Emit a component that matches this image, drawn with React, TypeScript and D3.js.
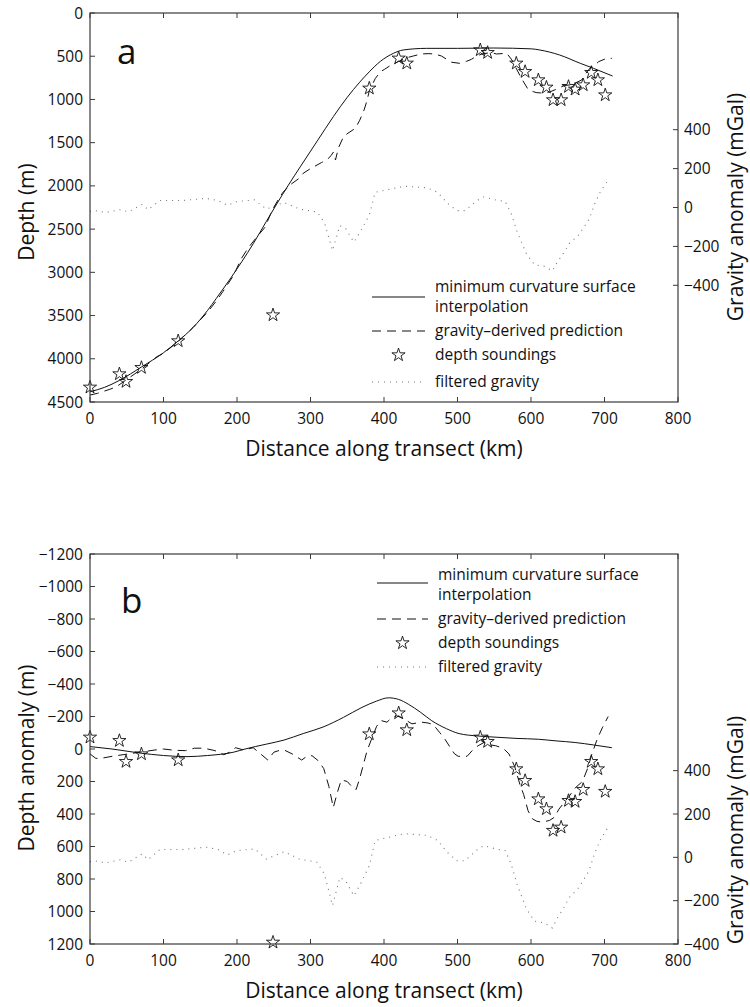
import React from "react";
import * as d3 from "d3";

type P = [number, number];

// ---------- data ----------
const xTicks = [0, 100, 200, 300, 400, 500, 600, 700, 800];
const depthTicksA = [0, 500, 1000, 1500, 2000, 2500, 3000, 3500, 4000, 4500];
const anomTicksB = [-1200, -1000, -800, -600, -400, -200, 0, 200, 400, 600, 800, 1000, 1200];
const gravTicks = [-400, -200, 0, 200, 400];

const soundingKm = [0, 40, 49, 70, 120, 249, 380, 420, 431, 531, 541, 580, 592, 610, 621, 630, 641, 651, 660, 671, 682, 691, 701];
const soundingDepth = [4330, 4176, 4265, 4103, 3794, 3494, 871, 524, 582, 428, 459, 582, 679, 775, 860, 1006, 1006, 852, 883, 833, 690, 775, 949];
const soundingAnomaly = [-72, -51, 78, 31, 68, 1190, -92, -221, -117, -72, -45, 123, 195, 308, 369, 502, 482, 318, 324, 250, 78, 123, 262];

const mcDepthA: P[] = [
  [0, 4381], [20, 4330], [40, 4250], [70, 4095], [100, 3930], [120, 3794], [140, 3640], [160, 3440],
  [172, 3300], [192, 3060], [222, 2670], [240, 2410], [254, 2210], [270, 1990], [286, 1780], [310, 1470],
  [331, 1200], [350, 975], [367, 800], [380, 680], [395, 560], [413, 466], [426, 428], [458, 409],
  [500, 409], [549, 405], [601, 415], [612, 428], [639, 486], [667, 582], [685, 640], [711, 729],
];

const gdDepthA: P[] = [
  [0, 4420], [10, 4400], [27, 4353], [36, 4323], [50, 4240], [70, 4120], [91, 3976], [100, 3937],
  [120, 3800], [140, 3640], [160, 3460], [172, 3330], [181, 3220], [195, 3040], [206, 2840], [215, 2720],
  [228, 2580], [238, 2480], [248, 2280], [256, 2160], [262, 2080], [272, 1990], [285, 1910], [290, 1855],
  [300, 1800], [315, 1730], [322, 1700], [328, 1650], [331, 1610], [334, 1700], [338, 1560], [345, 1430],
  [351, 1390], [361, 1334], [367, 1240], [373, 1120], [377, 1010], [380, 900], [388, 760], [395, 680],
  [401, 650], [410, 600], [420, 560], [430, 520], [440, 497], [451, 474], [460, 470], [469, 474],
  [478, 497], [492, 570], [503, 582], [512, 560], [519, 536], [526, 497], [535, 470], [546, 459],
  [553, 474], [567, 466], [574, 543], [581, 659], [587, 756], [596, 883], [603, 910], [608, 922],
  [615, 925], [625, 915], [635, 880], [645, 840], [655, 830], [669, 775], [673, 717], [680, 640],
  [687, 602], [692, 563], [703, 524], [710, 524],
];

const mcAnomB: P[] = [
  [0, -15], [30, 0], [68, 25], [100, 40], [132, 47], [160, 40], [195, 20], [211, 0], [240, -30],
  [264, -55], [290, -95], [317, -135], [345, -195], [370, -256], [390, -295], [406, -315], [420, -305],
  [433, -276], [450, -225], [465, -174], [485, -125], [502, -95], [528, -80], [555, -72], [581, -65],
  [610, -60], [634, -50], [660, -40], [685, -25], [710, -8],
];

const gdAnomB: P[] = [
  [0, 30], [8, 58], [18, 55], [30, 45], [45, 35], [60, 25], [75, 15], [90, 5], [100, 0], [115, 8],
  [130, 10], [142, -5], [155, -5], [170, 10], [182, 35], [190, 20], [198, -8], [208, 5], [215, 0],
  [222, -8], [232, 30], [242, 68], [250, 20], [258, 8], [265, 8], [275, 30], [288, 68], [295, 45],
  [302, 41], [310, 70], [318, 120], [325, 230], [331, 360], [337, 260], [342, 190], [350, 200],
  [356, 230], [362, 250], [367, 180], [372, 95], [377, 10], [383, -60], [390, -140], [396, -175],
  [404, -165], [410, -190], [417, -205], [425, -190], [438, -155], [451, -165], [460, -160], [467, -150],
  [476, -100], [483, -60], [490, -10], [496, 30], [501, 45], [513, 45], [520, 10], [528, -20],
  [536, -40], [545, -25], [552, -20], [562, -5], [570, 30], [578, 110], [585, 220], [590, 280],
  [596, 380], [602, 430], [608, 445], [615, 450], [625, 440], [632, 420], [638, 370], [645, 330],
  [652, 290], [660, 240], [670, 200], [677, 120], [683, 30], [690, -60], [697, -130], [705, -200],
];

const gravity: P[] = [
  [0, -20], [7, -16], [21, -26], [42, -11], [52, -23], [71, 16], [79, -11], [95, 36], [126, 36],
  [158, 47], [174, 36], [187, 11], [200, 31], [224, 39], [240, -8], [264, 26], [285, -8], [309, -23],
  [319, -78], [330, -222], [340, -93], [348, -109], [359, -178], [369, -116], [380, -39], [388, 78],
  [417, 101], [428, 109], [459, 101], [473, 78], [486, 23], [499, -16], [510, -16], [528, 39],
  [536, 54], [552, 39], [565, 31], [573, -31], [581, -124], [594, -240], [605, -295], [618, -302],
  [629, -326], [636, -279], [642, -248], [652, -186], [665, -140], [679, -62], [687, 23], [695, 85],
  [705, 140],
];

const legendLabels = ["minimum curvature surface", "interpolation", "gravity\u2013derived prediction", "depth soundings", "filtered gravity"];

// ---------- styles ----------
const FONT = "'Open Sans', 'DejaVu Sans', sans-serif";
const AXIS = "#3a3a3a";
const LEFT = 90;
const RIGHT = 678;
const TICK = 5;

const xScale = d3.scaleLinear().domain([0, 800]).range([LEFT, RIGHT]);
const starPath = d3.symbol().type(d3.symbolStar).size(54)() as string;
const fmt = (v: number) => (v < 0 ? "\u2212" + Math.abs(v) : String(v));

interface PanelProps {
  top: number;
  bottom: number;
  yDomain: [number, number];
  yTicks: number[];
  gDomain: [number, number];
  solid: P[];
  dashed: P[];
  stars: number[];
  letter: string;
  letterPos: [number, number];
  yLabel: string;
  yLabelCenter: number;
  gLabelCenter: number;
  legend: { x0: number; x1: number; tx: number; line: number; t1: number; t2: number; dash: number; star: number; dot: number };
}

function Panel(p: PanelProps) {
  const y = d3.scaleLinear().domain(p.yDomain).range([p.top, p.bottom]);
  const g = d3.scaleLinear().domain(p.gDomain).range([p.bottom, p.top]);
  const solidLine = d3.line<P>().x((d) => xScale(d[0])).y((d) => y(d[1])).curve(d3.curveMonotoneX);
  const dashLine = d3.line<P>().x((d) => xScale(d[0])).y((d) => y(d[1]));
  const gLine = d3.line<P>().x((d) => xScale(d[0])).y((d) => g(d[1]));
  const L = p.legend;
  const tickFont = { fontFamily: FONT, fontSize: 15.5, fill: "#111" } as const;
  return (
    <g>
      {/* data */}
      <path d={gLine(gravity) || ""} fill="none" stroke="#777" strokeWidth={1.1} strokeDasharray="1 5" />
      <path d={solidLine(p.solid) || ""} fill="none" stroke="#111" strokeWidth={1} />
      <path d={dashLine(p.dashed) || ""} fill="none" stroke="#111" strokeWidth={1} strokeDasharray="9 6" />
      {soundingKm.map((k, i) => (
        <path key={i} d={starPath} transform={`translate(${xScale(k)},${y(p.stars[i])})`} fill="none" stroke="#111" strokeWidth={0.9} />
      ))}

      {/* box */}
      <rect x={LEFT} y={p.top} width={RIGHT - LEFT} height={p.bottom - p.top} fill="none" stroke={AXIS} strokeWidth={1.2} />

      {/* x ticks */}
      {xTicks.map((t) => (
        <g key={"x" + t}>
          <line x1={xScale(t)} x2={xScale(t)} y1={p.bottom} y2={p.bottom - TICK} stroke={AXIS} />
          <line x1={xScale(t)} x2={xScale(t)} y1={p.top} y2={p.top + TICK} stroke={AXIS} />
          <text x={xScale(t)} y={p.bottom + 22} textAnchor="middle" {...tickFont}>{t}</text>
        </g>
      ))}
      {/* left ticks */}
      {p.yTicks.map((t) => (
        <g key={"y" + t}>
          <line x1={LEFT} x2={LEFT + TICK} y1={y(t)} y2={y(t)} stroke={AXIS} />
          <text x={LEFT - 7} y={y(t)} dy="0.36em" textAnchor="end" {...tickFont}>{fmt(t)}</text>
        </g>
      ))}
      {/* right ticks */}
      {gravTicks.map((t) => (
        <g key={"g" + t}>
          <line x1={RIGHT} x2={RIGHT - TICK} y1={g(t)} y2={g(t)} stroke={AXIS} />
          <text x={RIGHT + 6} y={g(t)} dy="0.36em" textAnchor="start" {...tickFont}>{fmt(t)}</text>
        </g>
      ))}

      {/* labels */}
      <text x={(LEFT + RIGHT) / 2} y={p.bottom + 54} textAnchor="middle" fontFamily={FONT} fontSize={21} fill="#111">
        Distance along transect (km)
      </text>
      <text transform={`translate(34,${p.yLabelCenter}) rotate(-90)`} textAnchor="middle" fontFamily={FONT} fontSize={21} fill="#111">
        {p.yLabel}
      </text>
      <text transform={`translate(743,${p.gLabelCenter}) rotate(-90)`} textAnchor="middle" fontFamily={FONT} fontSize={21} fill="#111">
        Gravity anomaly (mGal)
      </text>
      <text x={p.letterPos[0]} y={p.letterPos[1]} fontFamily={FONT} fontSize={35} fill="#111">{p.letter}</text>

      {/* legend */}
      <line x1={L.x0} x2={L.x1} y1={L.line} y2={L.line} stroke="#111" />
      <line x1={L.x0} x2={L.x1} y1={L.dash} y2={L.dash} stroke="#111" strokeDasharray="9 6" />
      <path d={starPath} transform={`translate(${(L.x0 + L.x1) / 2},${L.star})`} fill="none" stroke="#111" strokeWidth={0.9} />
      <line x1={L.x0} x2={L.x1} y1={L.dot} y2={L.dot} stroke="#777" strokeWidth={1.1} strokeDasharray="1 5" />
      {[L.t1, L.t2, L.dash, L.star, L.dot].map((yy, i) => (
        <text key={i} x={L.tx} y={yy} dy="0.35em" fontFamily={FONT} fontSize={15.5} fill="#111">{legendLabels[i]}</text>
      ))}
    </g>
  );
}

export default function App() {
  return (
    <svg width={750} height={1007} style={{ position: "absolute", left: 0, top: 0, background: "#fff" }}>
      <rect width={750} height={1007} fill="#fff" />
      <Panel
        top={13}
        bottom={402}
        yDomain={[0, 4500]}
        yTicks={depthTicksA}
        gDomain={[-1000, 1000]}
        solid={mcDepthA}
        dashed={gdDepthA}
        stars={soundingDepth}
        letter="a"
        letterPos={[117, 64]}
        yLabel="Depth (m)"
        yLabelCenter={212}
        gLabelCenter={207}
        legend={{ x0: 372, x1: 425, tx: 435, line: 297, t1: 287, t2: 307, dash: 331, star: 355, dot: 382 }}
      />
      <Panel
        top={554}
        bottom={944}
        yDomain={[-1200, 1200]}
        yTicks={anomTicksB}
        gDomain={[-400, 1400]}
        solid={mcAnomB}
        dashed={gdAnomB}
        stars={soundingAnomaly}
        letter="b"
        letterPos={[121, 613]}
        yLabel="Depth anomaly (m)"
        yLabelCenter={758}
        gLabelCenter={830}
        legend={{ x0: 377, x1: 428, tx: 438, line: 583, t1: 575, t2: 595, dash: 619, star: 643, dot: 667 }}
      />
    </svg>
  );
}
